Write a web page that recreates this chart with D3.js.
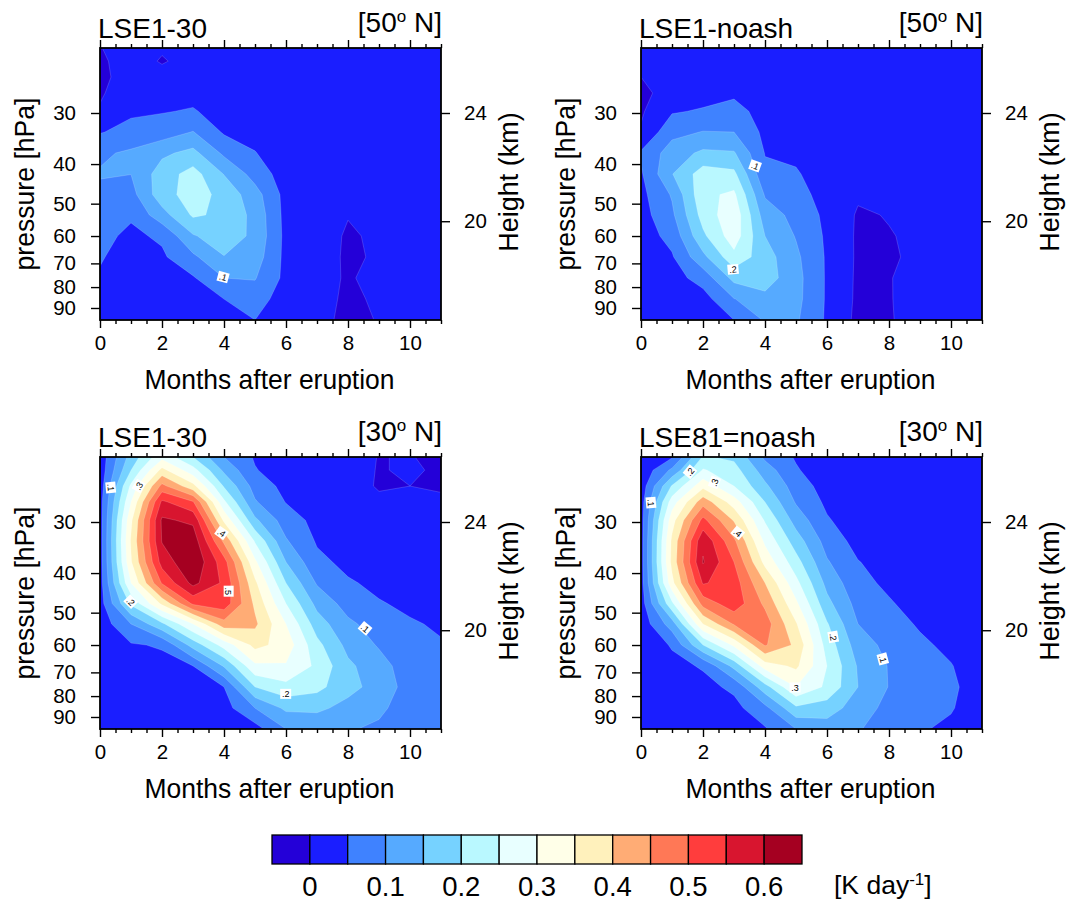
<!DOCTYPE html>
<html><head><meta charset="utf-8"><style>
html,body{margin:0;padding:0;background:#fff}
svg{display:block}
text{font-family:"Liberation Sans",Arial,sans-serif;fill:#000}
</style>
<script src="https://cdn.jsdelivr.net/npm/d3@7/dist/d3.min.js"></script>
</head><body><svg id="c" width="1068" height="905"></svg>
<script>
const months = [0,1,2,3,4,5,6,7,8,9,10,11];
const levels = [20.8,22.4,24.5,26.8,29.7,33.4,37.6,42.3,47.5,53.3,60,67.5,76,85.6,96.3];
const thresholds = [0,.05,.1,.15,.2,.25,.3,.35,.4,.45,.5,.55,.6];
const colors = ["#2400d8","#1a1eff","#3f82ff","#56aaff","#76d2ff","#b9f8ff","#e8ffff","#ffffe8","#fff1bc","#ffac75","#ff7856","#ff3d3d","#d8152f","#a50021"];
const pressureTicks = [30,40,50,60,70,80,90];
const heightTicks = [24,20];
const heightPressures = [30,55.2];
const monthMajor = [0,2,4,6,8,10];
const monthMinor = [.5,1,1.5,2.5,3,3.5,4.5,5,5.5,6.5,7,7.5,8.5,9,9.5,10.5,11];
const colorbarLabels = ["0","0.1","0.2","0.3","0.4","0.5","0.6"];
// each inner list: one month, values from the top level to the bottom level (K/day)
const lse130_50N = [
[-.001,-.006,-.012,-.006,.005,.047,.092,.104,.088,.076,.063,.054,.045,.035,.025],
[.012,.016,.022,.03,.042,.066,.108,.1005,.082,.056,.04,.03,.024,.018,.012],
[.004,-.003,.012,.03,.047,.075,.14,.175,.18,.13,.058,.042,.032,.024,.018],
[.008,.012,.02,.035,.054,.102,.165,.22,.222,.207,.145,.09,.045,.03,.02],
[.005,.008,.012,.02,.03,.044,.09,.148,.185,.19,.18,.148,.1,.05,.03],
[.002,.004,.006,.012,.02,.033,.052,.08,.12,.135,.138,.125,.103,.075,.05],
[.002,.002,.004,.006,.01,.015,.02,.025,.033,.034,.036,.036,.037,.023,.02],
[.002,.002,.003,.004,.006,.008,.01,.012,.014,.014,.012,.012,.01,.008,.006],
[.003,.003,.004,.004,.004,.005,.005,.004,.003,.001,-.003,-.004,-.003,-.004,-.005],
[.004,.004,.004,.004,.004,.005,.005,.005,.005,.005,.004,.003,.009,.003,.001],
[.005,.005,.005,.005,.005,.005,.005,.005,.006,.006,.006,.007,.008,.007,.006],
[.005,.005,.005,.005,.005,.005,.005,.005,.006,.006,.006,.007,.007,.007,.006]];
const lse1noash_50N = [
[.004,.002,0,-.012,-.006,.005,.056,.044,.036,.03,.025,.018,.012,.008,.005],
[.005,.006,.01,.02,.045,.085,.125,.148,.105,.09,.066,.045,.03,.018,.012],
[.008,.01,.015,.03,.055,.102,.16,.225,.238,.22,.19,.137,.07,.03,.02],
[.012,.016,.025,.04,.07,.1,.155,.212,.26,.285,.278,.235,.165,.098,.05],
[.006,.008,.012,.018,.028,.038,.048,.06,.095,.125,.15,.172,.175,.135,.105],
[.004,.005,.007,.01,.015,.022,.04,.055,.068,.085,.097,.11,.117,.115,.107],
[.002,.003,.003,.005,.007,.012,.018,.024,.031,.038,.042,.044,.044,.044,.043],
[.003,.003,.004,.004,.005,.006,.007,.007,.006,-.005,-.007,-.007,-.008,-.009,-.012],
[.004,.004,.005,.005,.006,.006,.006,.005,.004,.002,-.002,-.006,-.002,-.001,-.003],
[.005,.005,.005,.006,.006,.007,.007,.007,.007,.007,.007,.01,.015,.007,.015],
[.005,.005,.005,.006,.006,.006,.006,.006,.006,.006,.007,.008,.008,.007,.008],
[.005,.005,.005,.005,.005,.005,.005,.005,.005,.005,.006,.006,.006,.006,.006]];
const lse130_30N = [
[.02,.02,.025,.03,.03,.03,.03,.03,.028,.02,.015,.012,.01,.008,.006],
[.17,.2,.26,.3,.34,.355,.345,.3,.21,.1,.045,.03,.02,.012,.008],
[.285,.365,.465,.56,.608,.603,.57,.505,.36,.19,.055,.035,.025,.015,.01],
[.2,.27,.365,.505,.59,.63,.645,.615,.51,.3,.17,.05,.035,.022,.014],
[.1,.14,.195,.26,.34,.44,.52,.54,.53,.43,.27,.155,.05,.03,.02],
[.045,.053,.08,.105,.16,.245,.31,.36,.39,.41,.365,.29,.2,.1,.03],
[.02,.025,.035,.048,.075,.105,.15,.2,.25,.3,.33,.295,.235,.16,.1],
[.01,.012,.018,.025,.035,.045,.062,.095,.135,.175,.215,.24,.215,.16,.115],
[.006,.007,.009,.012,.018,.028,.038,.055,.08,.11,.135,.16,.165,.135,.105],
[-.0005,-.001,-.002,.004,.01,.018,.028,.04,.053,.078,.095,.12,.132,.112,.09],
[.001,.002,0,.006,.012,.018,.025,.033,.042,.054,.065,.073,.078,.07,.062],
[-.005,-.0022,-.002,.003,.008,.012,.017,.022,.03,.045,.053,.058,.06,.057,.052]];
const lse81noash_30N = [
[.01,.012,.02,.028,.03,.03,.03,.03,.025,.018,.012,.01,.008,.006,.005],
[.045,.11,.205,.275,.33,.36,.365,.335,.24,.125,.055,.035,.025,.015,.01],
[.205,.255,.335,.43,.515,.59,.604,.555,.47,.35,.2,.055,.035,.02,.012],
[.19,.22,.25,.325,.395,.46,.5,.525,.53,.455,.31,.165,.06,.035,.02],
[.09,.125,.16,.2,.245,.29,.335,.4,.44,.475,.455,.325,.18,.085,.045],
[.045,.055,.075,.095,.13,.175,.22,.265,.31,.355,.39,.36,.3,.19,.1],
[.015,.02,.03,.04,.055,.08,.105,.135,.165,.205,.23,.25,.24,.175,.125],
[.008,.01,.012,.016,.022,.033,.052,.065,.082,.1,.125,.145,.15,.125,.105],
[.004,.005,.006,.008,.012,.018,.03,.04,.055,.068,.085,.097,.098,.085,.07],
[.003,.003,.004,.005,.008,.012,.018,.024,.03,.045,.058,.068,.072,.07,.055],
[.003,.003,.003,.004,.005,.007,.01,.014,.018,.025,.04,.052,.058,.054,.04],
[.002,.002,.002,.002,.003,.004,.005,.006,.008,.01,.015,.025,.028,.02,.015]];
// contour labels: text, month, pressure, angle
const labels1 = [[".1",3.97,75.6,15]];
const labels2 = [[".1",3.68,40.4,20],[".2",2.97,72.4,-5]];
const labels3 = [[".1",.345,24.7,85],[".3",1.25,24.5,-60],[".4",3.92,31.9,35],[".5",4.15,44.3,90],[".2",.99,47,45],[".1",8.55,54.6,40],[".2",5.99,79,0]];
const labels4 = [[".1",.32,26.9,85],[".2",1.58,22.6,-50],[".3",2.37,24,-70],[".4",3.12,31.9,40],[".2",6.2,57.3,80],[".1",7.8,64.9,75],[".3",4.97,76.2,0]];

const panelWidth = 341, panelHeight = 272;
const panels = [
 {l:100,t:48,data:lse130_50N,title:"LSE1-30",lat:"50",lab:labels1},
 {l:641,t:48,data:lse1noash_50N,title:"LSE1-noash",lat:"50",lab:labels2},
 {l:100,t:457,data:lse130_30N,title:"LSE1-30",lat:"30",lab:labels3},
 {l:641,t:457,data:lse81noash_30N,title:"LSE81=noash",lat:"30",lab:labels4}];
const svg = d3.select("#c");
const x = d3.scaleLinear().domain([0,11]).range([0,panelWidth]);
const y = d3.scaleLog().domain([levels[0],levels[levels.length-1]]).range([0,panelHeight]);
const rowY = d3.scaleLinear().domain(levels.map((d,i)=>i)).range(levels.map(y));
const nx = months.length, ny = levels.length;
const defs = svg.append("defs");
defs.append("clipPath").attr("id","pc").append("rect").attr("width",panelWidth).attr("height",panelHeight);
const path = d3.geoPath(d3.geoTransform({point(cx,cy){ this.stream.point(x(cx-1.5), rowY(cy-1.5)); }}));
function styleAxis(g){ g.selectAll("path.domain").remove(); g.selectAll("line").attr("stroke","#000").attr("stroke-width",1.4); g.selectAll("text").style("font-size","20.5px").style("font-family",'"Liberation Sans"').attr("fill","#000"); }

panels.forEach(p=>{
  const g = svg.append("g").attr("transform",`translate(${p.l},${p.t})`);
  // grid padded by one repeated row/column so contours run straight through the frame
  const flat = [];
  for(let r=-1;r<=ny;r++) for(let c=-1;c<=nx;c++){
    flat.push(p.data[Math.min(nx-1,Math.max(0,c))][Math.min(ny-1,Math.max(0,r))]);
  }
  const cs = d3.contours().size([nx+2,ny+2]).thresholds(thresholds)(flat);
  const plot = g.append("g").attr("clip-path","url(#pc)");
  plot.append("rect").attr("width",panelWidth).attr("height",panelHeight).attr("fill",colors[0]);
  plot.selectAll("path").data(cs).join("path").attr("d",path)
    .attr("fill",(d,i)=>colors[i+1]).attr("stroke","#fff").attr("stroke-opacity",.28).attr("stroke-width",.6);
  // contour labels
  const lg = g.selectAll("g.lab").data(p.lab).join("g").attr("class","lab")
    .attr("transform",d=>`translate(${x(d[1])},${y(d[2])}) rotate(${d[3]})`);
  lg.append("rect").attr("x",-5.5).attr("y",-5).attr("width",11).attr("height",10).attr("fill","#fff");
  lg.append("text").attr("text-anchor","middle").attr("y",3.2).style("font-size","9px").text(d=>d[0]);
  // frame and axes
  const bot = g.append("g").attr("transform",`translate(0,${panelHeight})`);
  bot.append("g").call(d3.axisBottom(x).tickValues(monthMajor).tickSize(8).tickPadding(7).tickFormat(d3.format("d"))).call(styleAxis);
  bot.append("g").call(d3.axisBottom(x).tickValues(monthMinor).tickSize(4).tickFormat("")).call(styleAxis);
  const top = g.append("g");
  top.append("g").call(d3.axisTop(x).tickValues(monthMajor).tickSize(8).tickFormat("")).call(styleAxis);
  top.append("g").call(d3.axisTop(x).tickValues(monthMinor).tickSize(4).tickFormat("")).call(styleAxis);
  g.append("g").call(d3.axisLeft(y).tickValues(pressureTicks).tickSize(9).tickPadding(15).tickFormat(d3.format("d"))).call(styleAxis);
  g.append("g").attr("transform",`translate(${panelWidth},0)`)
    .call(d3.axisRight(y).tickValues(heightPressures).tickSize(9).tickPadding(14).tickFormat((d,i)=>heightTicks[i])).call(styleAxis);
  g.append("rect").attr("width",panelWidth).attr("height",panelHeight).attr("fill","none").attr("stroke","#000").attr("stroke-width",1.8);
  // texts
  g.append("text").attr("x",-2).attr("y",-10).style("font-size","28px").text(p.title);
  const rt = g.append("text").attr("x",panelWidth+1).attr("y",-16).attr("text-anchor","end").style("font-size","28px");
  rt.append("tspan").text("["+p.lat);
  rt.append("tspan").attr("dy",-10).style("font-size","17px").text("o");
  rt.append("tspan").attr("dy",10).text(" N]");
  g.append("text").attr("x",panelWidth/2-1).attr("y",panelHeight+69).attr("text-anchor","middle").attr("textLength",250).attr("lengthAdjust","spacingAndGlyphs").style("font-size","27.5px").text("Months after eruption");
  g.append("text").attr("transform",`translate(-66,136) rotate(-90)`).attr("text-anchor","middle").attr("textLength",173).attr("lengthAdjust","spacingAndGlyphs").style("font-size","27.5px").text("pressure [hPa]");
  g.append("text").attr("transform",`translate(${panelWidth+77},134) rotate(-90)`).attr("text-anchor","middle").style("font-size","27px").text("Height (km)");
});

// colour bar
const barX = d3.scaleBand().domain(d3.range(colors.length)).range([272,802]);
const cb = svg.append("g");
cb.selectAll("rect").data(colors).join("rect").attr("x",(d,i)=>barX(i)).attr("y",835).attr("width",barX.bandwidth()).attr("height",29)
  .attr("fill",d=>d).attr("stroke","#000").attr("stroke-width",1.3);
cb.selectAll("text.l").data(colorbarLabels).join("text").attr("class","l").attr("text-anchor","middle")
  .attr("x",(d,i)=>barX(2*i)+barX.bandwidth()).attr("y",896).style("font-size","27.5px").text(d=>d);
const unit = svg.append("text").attr("x",834).attr("y",894).style("font-size","26.5px");
unit.append("tspan").text("[K day");
unit.append("tspan").attr("dy",-9).style("font-size","17px").text("-1");
unit.append("tspan").attr("dy",9).text("]");
</script></body></html>
